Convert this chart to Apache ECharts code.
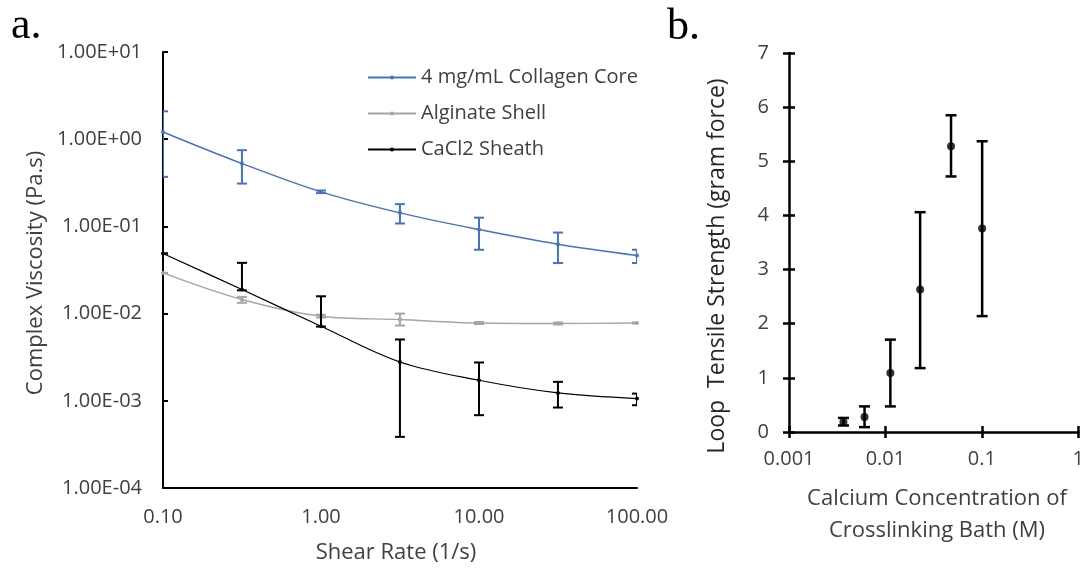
<!DOCTYPE html>
<html><head><meta charset="utf-8">
<script src="https://cdn.jsdelivr.net/npm/echarts@6/dist/echarts.min.js"></script>
<style>html,body{margin:0;padding:0;background:#fff}#c{width:1087px;height:571px}</style>
</head><body><div id="c"></div>
<script>
// ---- Panel a data ----
const shearRate = [0.1, 0.316, 1, 3.16, 10, 31.6, 100];
const collagen     = [1.21, 0.526, 0.249, 0.143, 0.092, 0.0625, 0.0464];
const collagenLow  = [0.37, 0.31, 0.241, 0.108, 0.054, 0.038, 0.038];
const collagenHigh = [2.09, 0.748, 0.258, 0.18, 0.126, 0.085, 0.054];
const alginate     = [0.0293, 0.0145, 0.00933, 0.00855, 0.0078, 0.0077, 0.0078];
const alginateLow  = [0.0293, 0.0133, 0.0090, 0.0073, 0.0076, 0.0075, 0.0077];
const alginateHigh = [0.0293, 0.01555, 0.0097, 0.0100, 0.0080, 0.0079, 0.0079];
const cacl2     = [0.0489, 0.0189, 0.00717, 0.00279, 0.00172, 0.00123, 0.00106];
const cacl2Low  = [0.0489, 0.0185, 0.0071, 0.000386, 0.000684, 0.000837, 0.00089];
const cacl2High = [0.0489, 0.0382, 0.0158, 0.00505, 0.00275, 0.00165, 0.00121];
const seriesNames = ['4 mg/mL Collagen Core', 'Alginate Shell', 'CaCl2 Sheath'];
const xTickLabelsA = ['0.10', '1.00', '10.00', '100.00'];
const yTickLabelsA = ['1.00E-04', '1.00E-03', '1.00E-02', '1.00E-01', '1.00E+00', '1.00E+01'];
// ---- Panel b data ----
const calcium      = [0.00367, 0.00607, 0.01125, 0.0229, 0.0479, 0.1007];
const strength     = [0.185, 0.277, 1.09, 2.63, 5.28, 3.76];
const strengthLow  = [0.12, 0.09, 0.473, 1.18, 4.72, 2.14];
const strengthHigh = [0.26, 0.473, 1.706, 4.06, 5.85, 5.37];
const xTickLabelsB = ['0.001', '0.01', '0.1', '1'];

const FONT = '"Open Sans", "Noto Sans", sans-serif';
const TXT = '#404040';
const zip = (xs, ys) => xs.map((x, i) => [x, ys[i]]);
const zip3 = (xs, a, b) => xs.map((x, i) => [x, a[i], b[i]]);
const lg = v => Math.round(Math.log(v) / Math.LN10);

function errRender(color, capW, lw) {
  return function (params, api) {
    const x = api.value(0), lo = api.value(1), hi = api.value(2);
    const p1 = api.coord([x, lo]), p2 = api.coord([x, hi]);
    const st = { stroke: color, lineWidth: lw };
    return { type: 'group', children: [
      { type: 'line', shape: { x1: p1[0], y1: p1[1], x2: p2[0], y2: p2[1] }, style: st },
      { type: 'line', shape: { x1: p1[0] - capW / 2, y1: p1[1], x2: p1[0] + capW / 2, y2: p1[1] }, style: st },
      { type: 'line', shape: { x1: p2[0] - capW / 2, y1: p2[1], x2: p2[0] + capW / 2, y2: p2[1] }, style: st }
    ]};
  };
}

const colors = ['#4472C4', '#A5A5A5', '#000000'];
const chart = echarts.init(document.getElementById('c'), null, { renderer: 'canvas' });

const option = {
  animation: false,
  backgroundColor: '#fff',
  grid: [
    { left: 163, top: 52, right: 450, bottom: 83 },
    { left: 789, top: 53, right: 4, bottom: 139 }
  ],
  legend: {
    data: seriesNames, orient: 'vertical', left: 362, top: 62, itemGap: 15,
    itemWidth: 48, itemHeight: 5,
    textStyle: { fontFamily: FONT, fontSize: 20, color: TXT, lineHeight: 21 }
  },
  xAxis: [
    { type: 'log', gridIndex: 0, logBase: 10, min: 0.1, max: 100,
      axisLine: { lineStyle: { color: '#000', width: 2 } }, axisTick: { show: false },
      splitLine: { show: false }, minorTick: { show: false },
      axisLabel: { margin: 19, fontFamily: FONT, fontSize: 20, color: TXT,
        formatter: v => xTickLabelsA[lg(v) + 1] } },
    { type: 'log', gridIndex: 1, logBase: 10, min: 0.001, max: 1,
      axisLine: { lineStyle: { color: '#000', width: 2.5 } },
      axisTick: { show: true, length: 6, lineStyle: { color: '#000', width: 2.5 } },
      splitLine: { show: false },
      axisLabel: { margin: 17, fontFamily: FONT, fontSize: 20, color: TXT,
        formatter: v => xTickLabelsB[lg(v) + 3] } },
    { type: 'log', gridIndex: 1, logBase: 10, min: 0.001, max: 1, position: 'bottom', offset: 0,
      axisLine: { show: false }, axisLabel: { show: false }, splitLine: { show: false },
      axisTick: { show: true, inside: true, length: 6, lineStyle: { color: '#000', width: 2.5 } } }
  ],
  yAxis: [
    { type: 'log', gridIndex: 0, logBase: 10, min: 0.0001, max: 10,
      axisLine: { show: true, lineStyle: { color: '#000', width: 2 } },
      axisTick: { show: true, inside: true, length: 5, lineStyle: { color: '#000', width: 2 } },
      splitLine: { show: false },
      axisLabel: { margin: 21, fontFamily: FONT, fontSize: 20, color: TXT,
        formatter: v => yTickLabelsA[lg(v) + 4] } },
    { type: 'value', gridIndex: 1, min: 0, max: 7, interval: 1,
      axisLine: { show: true, lineStyle: { color: '#000', width: 2.5 } },
      axisTick: { show: true, length: 6, lineStyle: { color: '#000', width: 2.5 } },
      splitLine: { show: false },
      axisLabel: { margin: 20, fontFamily: FONT, fontSize: 20, color: TXT } },
    { type: 'value', gridIndex: 1, min: 0, max: 7, interval: 1, position: 'left', offset: 0,
      axisLine: { show: false }, axisLabel: { show: false }, splitLine: { show: false },
      axisTick: { show: true, inside: true, length: 6, lineStyle: { color: '#000', width: 2.5 } } }
  ],
  series: [
    { name: seriesNames[0], type: 'line', xAxisIndex: 0, yAxisIndex: 0, data: zip(shearRate, collagen),
      smooth: 0.35, symbol: 'circle', symbolSize: 4, color: colors[0], lineStyle: { width: 1.4 }, z: 3 },
    { name: seriesNames[1], type: 'line', xAxisIndex: 0, yAxisIndex: 0, data: zip(shearRate, alginate),
      smooth: 0.35, symbol: 'circle', symbolSize: 4, color: colors[1], lineStyle: { width: 1.4 }, z: 3 },
    { name: seriesNames[2], type: 'line', xAxisIndex: 0, yAxisIndex: 0, data: zip(shearRate, cacl2),
      smooth: 0.35, symbol: 'circle', symbolSize: 4, color: colors[2], lineStyle: { width: 1.2 }, z: 3 },
    { type: 'custom', xAxisIndex: 0, yAxisIndex: 0, data: zip3(shearRate, collagenLow, collagenHigh),
      renderItem: errRender(colors[0], 10, 2), encode: { x: 0, y: [1, 2] }, clip: true, z: 4 },
    { type: 'custom', xAxisIndex: 0, yAxisIndex: 0, data: zip3(shearRate, alginateLow, alginateHigh),
      renderItem: errRender(colors[1], 10, 2), encode: { x: 0, y: [1, 2] }, clip: true, z: 4 },
    { type: 'custom', xAxisIndex: 0, yAxisIndex: 0, data: zip3(shearRate, cacl2Low, cacl2High),
      renderItem: errRender(colors[2], 10, 2), encode: { x: 0, y: [1, 2] }, clip: true, z: 4 },
    { type: 'scatter', xAxisIndex: 1, yAxisIndex: 1, data: zip(calcium, strength),
      symbol: 'circle', symbolSize: 8, itemStyle: { color: '#000' }, z: 4 },
    { type: 'custom', xAxisIndex: 1, yAxisIndex: 1, data: zip3(calcium, strengthLow, strengthHigh),
      renderItem: errRender('#000', 11, 2.5), encode: { x: 0, y: [1, 2] }, z: 3 }
  ],
  graphic: [
    { type: 'text', x: 11, y: 26, style: { text: 'a.', font: '44px "Liberation Serif", serif', fill: '#000', textAlign: 'left', textVerticalAlign: 'middle' } },
    { type: 'text', x: 667, y: 27, style: { text: 'b.', font: '44px "Liberation Serif", serif', fill: '#000', textAlign: 'left', textVerticalAlign: 'middle' } },
    { type: 'text', x: 36, y: 273, rotation: Math.PI / 2, style: { text: 'Complex Viscosity (Pa.s)', font: '22px ' + FONT, fill: TXT, textAlign: 'center', textVerticalAlign: 'middle' } },
    { type: 'text', x: 396, y: 553, style: { text: 'Shear Rate (1/s)', font: '22px ' + FONT, fill: TXT, textAlign: 'center', textVerticalAlign: 'middle' } },
    { type: 'text', x: 717, y: 266, rotation: Math.PI / 2, style: { text: 'Loop  Tensile Strength (gram force)', font: '23px ' + FONT, fill: '#262626', textAlign: 'center', textVerticalAlign: 'middle' } },
    { type: 'text', x: 937, y: 499, style: { text: 'Calcium Concentration of', font: '22px ' + FONT, fill: TXT, textAlign: 'center', textVerticalAlign: 'middle' } },
    { type: 'text', x: 937, y: 531, style: { text: 'Crosslinking Bath (M)', font: '22px ' + FONT, fill: TXT, textAlign: 'center', textVerticalAlign: 'middle' } }
  ]
};
chart.setOption(option);
</script></body></html>
